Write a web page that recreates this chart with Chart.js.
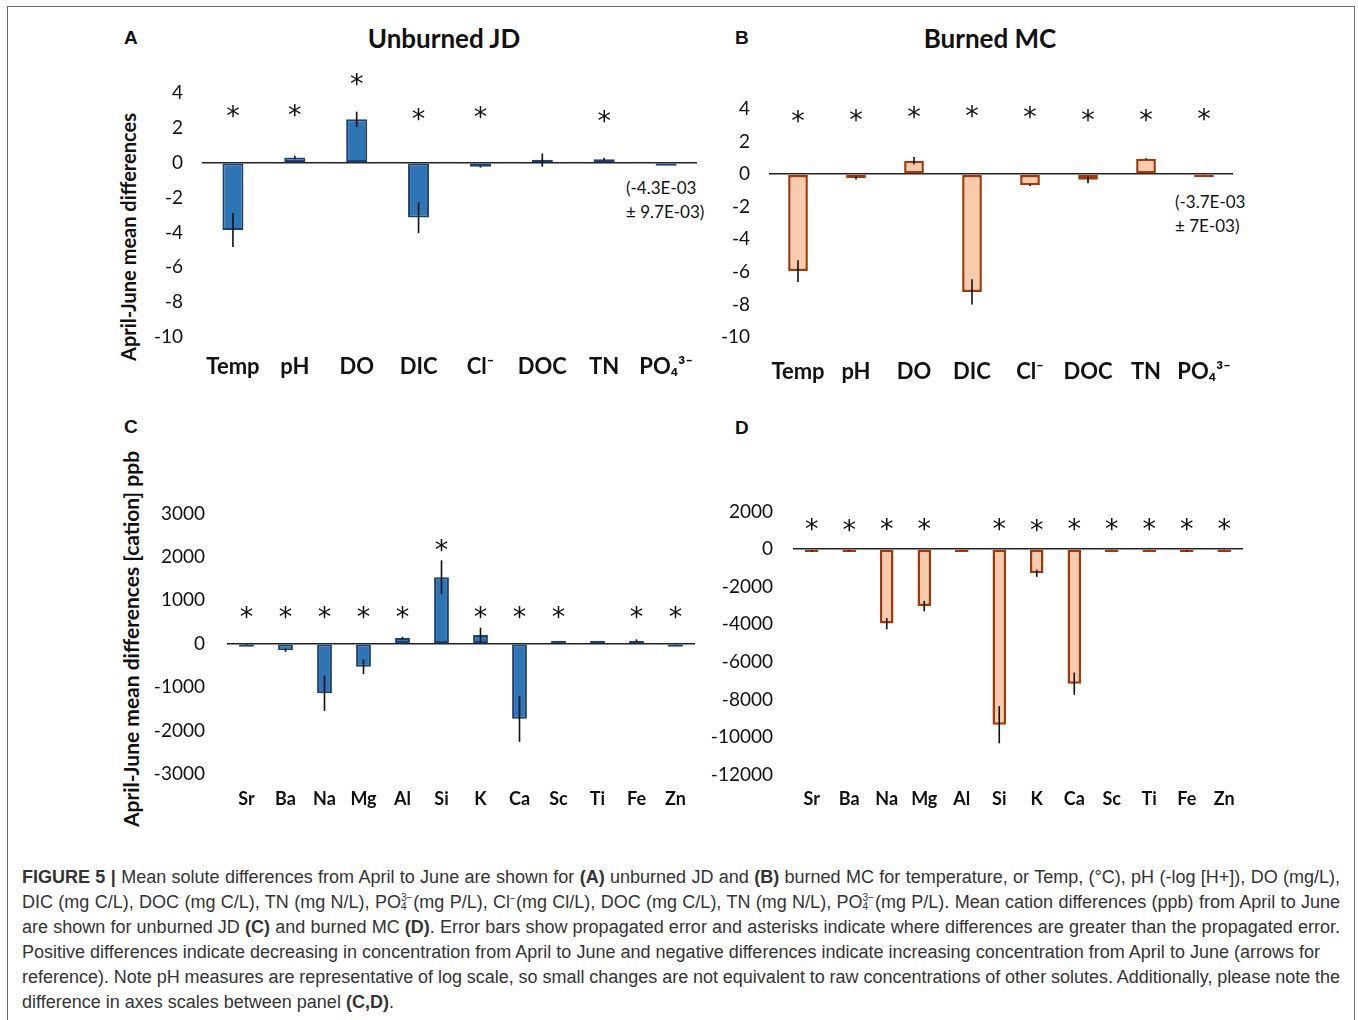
<!DOCTYPE html>
<html>
<head>
<meta charset="utf-8">
<script src="https://cdn.jsdelivr.net/npm/chart.js@4"></script>
<style>
  body { margin: 0; background: #fff; width: 1358px; height: 1020px; position: relative; overflow: hidden; font-family: Lato, sans-serif; color: #111; }
  .frame { position: absolute; left: 7px; top: 6px; width: 1346px; height: 1040px; border: 1.5px solid #6d6d6d; }
  .box { position: absolute; }
  .letter { position: absolute; font: bold 19px "Liberation Sans", Arial, sans-serif; line-height: 22px; }
  .ptitle { position: absolute; font: bold 26px Lato, sans-serif; line-height: 32px; transform: translateX(-50%); white-space: nowrap; }
  .ytitle { position: absolute; font: bold 20px Lato, sans-serif; white-space: nowrap; transform: translate(-50%, -50%) rotate(-90deg); }
  .note { position: absolute; font: 17px Lato, sans-serif; line-height: 24px; white-space: nowrap; }
  .cap { position: absolute; left: 22px; top: 865px; font: 18px "Liberation Sans", Arial, sans-serif; color: #333; line-height: 25px; }
  .cap div { white-space: nowrap; height: 25px; }
  .po { display: inline-block; vertical-align: top; height: 0; position: relative; top: 3px; line-height: 9px; font-size: 10px; text-align: left; margin-right: 1px; }
  .sup { font-size: 10px; vertical-align: 6px; line-height: 0; }
</style>
</head>
<body>
<div class="frame"></div>

<div class="letter" style="left:124px; top:27px">A</div>
<div class="letter" style="left:735px; top:27px">B</div>
<div class="letter" style="left:124px; top:416px">C</div>
<div class="letter" style="left:735px; top:417px">D</div>

<div class="ptitle" style="left:444px; top:22px">Unburned JD</div>
<div class="ptitle" style="left:990px; top:22px">Burned MC</div>

<div class="ytitle" style="left:128px; top:237px">April-June mean differences</div>
<div class="ytitle" style="left:130px; top:639px; font-size:21px">April-June mean differences [cation] ppb</div>

<div class="note" style="left:626px; top:176px">(-4.3E-03<br>± 9.7E-03)</div>
<div class="note" style="left:1175px; top:190px">(-3.7E-03<br>± 7E-03)</div>

<div class="box" style="left:140px; top:60px; width:570px; height:330px"><canvas id="chartA"></canvas></div>
<div class="box" style="left:715px; top:60px; width:545px; height:340px"><canvas id="chartB"></canvas></div>
<div class="box" style="left:140px; top:480px; width:570px; height:350px"><canvas id="chartC"></canvas></div>
<div class="box" style="left:700px; top:480px; width:560px; height:350px"><canvas id="chartD"></canvas></div>

<div class="cap" id="caption">
  <div><b>FIGURE 5 |</b> Mean solute differences from April to June are shown for <b>(A)</b> unburned JD and <b>(B)</b> burned MC for temperature, or Temp, (°C), pH (-log [H+]), DO (mg/L),</div>
  <div>DIC (mg C/L), DOC (mg C/L), TN (mg N/L), PO<span class="po">3−<br>4</span>(mg P/L), Cl<span class="sup">−</span>(mg Cl/L), DOC (mg C/L), TN (mg N/L), PO<span class="po">3−<br>4</span>(mg P/L). Mean cation differences (ppb) from April to June</div>
  <div>are shown for unburned JD <b>(C)</b> and burned MC <b>(D)</b>. Error bars show propagated error and asterisks indicate where differences are greater than the propagated error.</div>
  <div>Positive differences indicate decreasing in concentration from April to June and negative differences indicate increasing concentration from April to June (arrows for</div>
  <div>reference). Note pH measures are representative of log scale, so small changes are not equivalent to raw concentrations of other solutes. Additionally, please note the</div>
  <div>difference in axes scales between panel <b>(C,D)</b>.</div>
</div>

<script>
// categories
const chemLabels = ['Temp', 'pH', 'DO', 'DIC', 'Cl⁻', 'DOC', 'TN', 'PO₄³⁻'];
const cationLabels = ['Sr', 'Ba', 'Na', 'Mg', 'Al', 'Si', 'K', 'Ca', 'Sc', 'Ti', 'Fe', 'Zn'];

// A - unburned JD, solutes
const jdChem = [-3.86, 0.3, 2.49, -3.15, -0.23, 0.15, 0.2, -0.0043];
const jdChemErr = [0.98, 0.1, 0.44, 0.89, 0.05, 0.38, 0.08, 0.0097];
const jdChemStar = [2.96, 3.0, 4.78, 2.77, 2.9, null, 2.68, null];

// B - burned MC, solutes
const mcChem = [-5.95, -0.23, 0.82, -7.23, -0.68, -0.35, 0.94, -0.0037];
const mcChemErr = [0.67, 0.1, 0.23, 0.77, 0.05, 0.21, 0.04, 0.007];
const mcChemStar = [3.55, 3.6, 3.8, 3.86, 3.8, 3.6, 3.6, 3.65];

// C - unburned JD, cations (ppb)
const jdCation = [-20, -150, -1140, -530, 130, 1530, 200, -1730, 15, 10, 70, -15];
const jdCationErr = [10, 40, 410, 170, 30, 390, 170, 530, 5, 5, 30, 5];
const jdCationStar = [720, 720, 720, 720, 720, 2250, 720, 720, 720, null, 720, 720];

// D - burned MC, cations (ppb)
const mcCation = [-100, -80, -3960, -3030, -40, -9330, -1285, -7150, -30, -30, -90, -40];
const mcCationErr = [40, 30, 300, 280, 10, 990, 190, 590, 10, 10, 40, 10];
const mcCationStar = [1320, 1230, 1320, 1320, null, 1320, 1230, 1320, 1320, 1320, 1320, 1320];

// error bars + asterisks, drawn on the chart's own scales
const errStars = {
    id: 'errStars',
    afterDatasetsDraw(chart) {
        const ctx = chart.ctx;
        const ds = chart.data.datasets[0];
        const meta = chart.getDatasetMeta(0);
        const y = chart.scales.y;
        ctx.save();
        ctx.strokeStyle = '#111';
        ctx.lineWidth = 1.6;
        meta.data.forEach((bar, i) => {
            const v = ds.data[i], e = ds.errors[i];
            ctx.beginPath();
            ctx.moveTo(bar.x, y.getPixelForValue(v - e));
            ctx.lineTo(bar.x, y.getPixelForValue(v + e));
            ctx.stroke();
        });
        ctx.fillStyle = '#111';
        ctx.font = '27px "DejaVu Sans", sans-serif';
        ctx.textAlign = 'center';
        ctx.textBaseline = 'alphabetic';
        const m = ctx.measureText('*');
        const shift = (m.actualBoundingBoxAscent - m.actualBoundingBoxDescent) / 2;
        meta.data.forEach((bar, i) => {
            const s = ds.stars[i];
            if (s === null) return;
            ctx.fillText('*', bar.x, y.getPixelForValue(s) + shift);
        });
        ctx.restore();
    }
};

function makeChart(id, labels, values, errs, stars, o) {
    new Chart(document.getElementById(id), {
        type: 'bar',
        data: {
            labels,
            datasets: [{
                data: values,
                errors: errs,
                stars: stars,
                backgroundColor: o.fill,
                borderColor: o.edge,
                borderWidth: o.bw,
                borderSkipped: false,
                minBarLength: 3,
                barPercentage: o.barPct,
                categoryPercentage: 1,
            }]
        },
        options: {
            responsive: true,
            maintainAspectRatio: false,
            animation: false,
            layout: { padding: { top: o.padTop, right: o.padRight, left: 0, bottom: 0 } },
            plugins: { legend: { display: false }, tooltip: { enabled: false } },
            scales: {
                x: {
                    grid: { display: false },
                    border: { display: false },
                    ticks: { font: { family: 'Lato', size: o.xSize, weight: 'bold' }, color: '#111', padding: o.xPad, maxRotation: 0, autoSkip: false },
                    afterFit: (s) => { s.height = o.xHeight; },
                },
                y: {
                    min: o.min, max: o.max,
                    ticks: { stepSize: o.step, font: { family: 'Lato', size: 19 }, color: '#111', padding: o.yPad, callback: (v) => String(v) },
                    grid: {
                        drawTicks: false,
                        lineWidth: 1.5,
                        color: (c) => (c.tick && c.tick.value === 0 ? '#222' : 'rgba(0,0,0,0)'),
                    },
                    border: { display: false },
                    afterFit: (s) => { s.width = o.yWidth; },
                },
            },
        },
        plugins: [errStars],
    });
}

const blue = { fill: '#2E75B6', edge: '#1F3F6E', bw: 2 };
const peach = { fill: '#F8CBAD', edge: '#9E3A0B', bw: 2.5 };

makeChart('chartA', chemLabels, jdChem, jdChemErr, jdChemStar, Object.assign({}, blue, {
    barPct: 0.34, min: -10, max: 4, step: 2, padTop: 33, padRight: 13, xHeight: 53, xSize: 22, xPad: 9, yWidth: 62, yPad: 19 }));
makeChart('chartB', chemLabels, mcChem, mcChemErr, mcChemStar, Object.assign({}, peach, {
    barPct: 0.34, min: -10, max: 4, step: 2, padTop: 49, padRight: 27, xHeight: 63, xSize: 22, xPad: 14, yWidth: 54, yPad: 19 }));
makeChart('chartC', cationLabels, jdCation, jdCationErr, jdCationStar, Object.assign({}, blue, {
    barPct: 0.38, min: -3000, max: 3000, step: 1000, padTop: 31, padRight: 15, xHeight: 56, xSize: 18, xPad: 6, yWidth: 87, yPad: 22 }));
makeChart('chartD', cationLabels, mcCation, mcCationErr, mcCationStar, Object.assign({}, peach, {
    barPct: 0.36, min: -12000, max: 2000, step: 2000, padTop: 30, padRight: 17, xHeight: 55, xSize: 18, xPad: 5, yWidth: 93, yPad: 20 }));

// stretch caption lines to the reference's line ends
const capEnds = [1318, 1318, 1318, 1298, 1318];
document.querySelectorAll('#caption > div').forEach((line, i) => {
    if (i >= capEnds.length) return;
    line.style.display = 'inline-block';
    const w = line.getBoundingClientRect().width;
    const gaps = (line.textContent.match(/ /g) || []).length;
    line.style.display = 'block';
    if (gaps) line.style.wordSpacing = ((capEnds[i] - w) / gaps).toFixed(2) + 'px';
});
</script>
</body>
</html>
